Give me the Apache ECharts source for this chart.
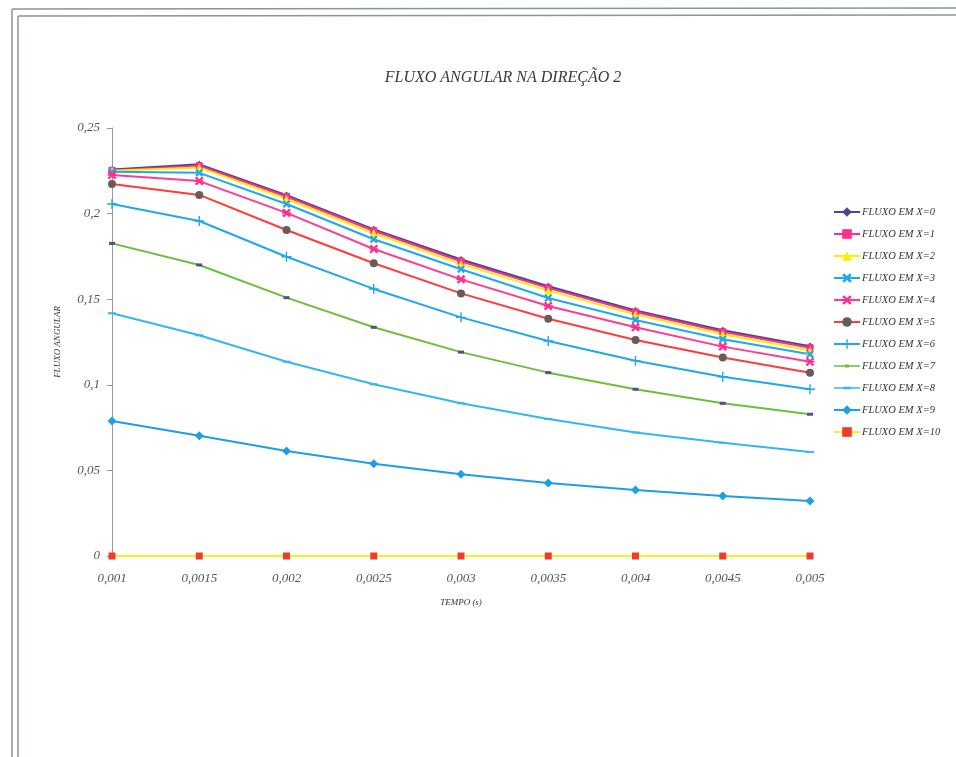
<!DOCTYPE html>
<html>
<head>
<meta charset="utf-8">
<script src="https://cdn.jsdelivr.net/npm/echarts@6/dist/echarts.min.js"></script>
<style>html,body{margin:0;padding:0;background:#fff;}#c{width:956px;height:757px;}</style>
</head>
<body>
<div id="c"></div>
<script>
var categories = ['0,001','0,0015','0,002','0,0025','0,003','0,0035','0,004','0,0045','0,005'];
var yTickLabels = {'0':'0','0.05':'0,05','0.1':'0,1','0.15':'0,15','0.2':'0,2','0.25':'0,25'};
var seriesNames = ['FLUXO EM X=0','FLUXO EM X=1','FLUXO EM X=2','FLUXO EM X=3','FLUXO EM X=4','FLUXO EM X=5','FLUXO EM X=6','FLUXO EM X=7','FLUXO EM X=8','FLUXO EM X=9','FLUXO EM X=10'];
var x0  = [0.2255, 0.2285, 0.2105, 0.1905, 0.1729, 0.1573, 0.1431, 0.1316, 0.1223];
var x1  = [0.2252, 0.2280, 0.2100, 0.1900, 0.1722, 0.1566, 0.1425, 0.1310, 0.1217];
var x2  = [0.2250, 0.2270, 0.2085, 0.1885, 0.1705, 0.1550, 0.1410, 0.1295, 0.1200];
var x3  = [0.2245, 0.2238, 0.2056, 0.1850, 0.1675, 0.1507, 0.1379, 0.1266, 0.1178];
var x4  = [0.2225, 0.2190, 0.2004, 0.1793, 0.1616, 0.1460, 0.1336, 0.1223, 0.1135];
var x5  = [0.2173, 0.2109, 0.1904, 0.1710, 0.1534, 0.1386, 0.1262, 0.1160, 0.1071];
var x6  = [0.2056, 0.1957, 0.1748, 0.1560, 0.1394, 0.1256, 0.1141, 0.1047, 0.0974];
var x7  = [0.1826, 0.1700, 0.1509, 0.1336, 0.1191, 0.1071, 0.0974, 0.0892, 0.0828];
var x8  = [0.1418, 0.1289, 0.1135, 0.1003, 0.0892, 0.0800, 0.0722, 0.0662, 0.0607];
var x9  = [0.0789, 0.0703, 0.0613, 0.0539, 0.0477, 0.0426, 0.0386, 0.0350, 0.0321];
var x10 = [0, 0, 0, 0, 0, 0, 0, 0, 0];
var seriesValues = [x0,x1,x2,x3,x4,x5,x6,x7,x8,x9,x10];

var SYM_X = 'path://M2,0 L5,3 L8,0 L10,2 L7,5 L10,8 L8,10 L5,7 L2,10 L0,8 L3,5 L0,2 Z';
var SYM_STAR = 'path://M2,0 L5,3 L8,0 L10,2 L7,4.2 L10,4.2 L10,5.8 L7,5.8 L10,8 L8,10 L5,7 L2,10 L0,8 L3,5.8 L0,5.8 L0,4.2 L3,4.2 L0,2 Z';
var SYM_PLUS = 'path://M4.3,0 H5.7 V4.3 H10 V5.7 H5.7 V10 H4.3 V5.7 H0 V4.3 H4.3 Z';
var SYM_DASH = 'path://M0,0 H10 V10 H0 Z';
var LEG_DASH_S = 'path://M0,5.2 H26 V6.8 H0 Z M11,4.5 H15 V7.5 H11 Z';
var LEG_DASH_L = 'path://M0,5.2 H26 V6.8 H0 Z M9,4.8 H17 V7.2 H9 Z';

var styles = [
  {line:'#4b4890', sym:'diamond', symColor:'#4b4890', size:8, width:3},
  {line:'#ff2d8e', sym:'rect', symColor:'#ff2d8e', size:7, width:2},
  {line:'#ffee00', sym:'triangle', symColor:'#ffee00', size:8, width:2},
  {line:'#1fa8ea', sym:SYM_X, symColor:'#1fa8ea', size:8, width:2},
  {line:'#ff3d8e', sym:SYM_STAR, symColor:'#ff2d8e', size:9, width:2},
  {line:'#ff3b3b', sym:'circle', symColor:'#6a5a5a', size:8, width:2},
  {line:'#1fa8ea', sym:SYM_PLUS, symColor:'#1fa8ea', size:10, width:2},
  {line:'#6cbf3c', sym:SYM_DASH, symColor:'#5a4a8c', size:[6,3], width:2, legIcon:LEG_DASH_S},
  {line:'#36b6ee', sym:SYM_DASH, symColor:'#36b6ee', size:[8,2], width:2, legIcon:LEG_DASH_L},
  {line:'#1f9ee6', sym:'diamond', symColor:'#1f9ee6', size:9, width:2},
  {line:'#ffee22', sym:'rect', symColor:'#f03a2a', size:7, width:2}
];

var series = seriesNames.map(function(n, i){
  var s = styles[i];
  return {
    name: n, type: 'line', data: seriesValues[i],
    symbol: s.sym, symbolSize: s.size, showSymbol: true,
    lineStyle: {color: s.line, width: s.width},
    itemStyle: {color: s.symColor, borderWidth: 0},
    emphasis: {disabled: true},
    animation: false
  };
});

var legendData = seriesNames.map(function(n, i){
  var s = styles[i];
  if (s.legIcon) return {name: n, icon: s.legIcon, itemStyle: {color: s.line}};
  return {name: n};
});

var chart = echarts.init(document.getElementById('c'), null, {renderer: 'canvas'});
chart.setOption({
  backgroundColor: '#ffffff',
  animation: false,
  title: {
    text: 'FLUXO ANGULAR NA DIREÇÃO 2',
    left: 498, top: 65, textAlign: 'center',
    textStyle: {fontFamily: 'Liberation Serif', fontStyle: 'italic', fontWeight: 'normal', fontSize: 16, color: '#3a3a3a'}
  },
  legend: {
    orient: 'vertical', left: 833, top: 206, padding: 0,
    itemWidth: 26, itemHeight: 12, itemGap: 10,
    textStyle: {fontFamily: 'Liberation Serif', fontStyle: 'italic', fontSize: 10.5, color: '#333', padding: [0,0,0,-3], lineHeight: 12},
    data: legendData
  },
  grid: {left: 112, right: 146, top: 128, bottom: 201, containLabel: false},
  xAxis: {
    type: 'category', data: categories, boundaryGap: false,
    name: 'TEMPO (s)', nameLocation: 'middle', nameGap: 42,
    nameTextStyle: {fontFamily: 'Liberation Serif', fontStyle: 'italic', fontSize: 9, color: '#333'},
    axisLine: {lineStyle: {color: '#999', width: 1}},
    axisTick: {show: false},
    axisLabel: {fontFamily: 'Liberation Serif', fontStyle: 'italic', fontSize: 13, color: '#555', margin: 16}
  },
  yAxis: {
    type: 'value', min: 0, max: 0.25, interval: 0.05,
    name: 'FLUXO ANGULAR', nameLocation: 'middle', nameGap: 50, nameRotate: 90,
    nameTextStyle: {fontFamily: 'Liberation Serif', fontStyle: 'italic', fontSize: 9, color: '#333'},
    axisLine: {show: true, lineStyle: {color: '#999', width: 1}},
    axisTick: {show: true, length: 5, lineStyle: {color: '#999'}},
    splitLine: {show: false},
    axisLabel: {fontFamily: 'Liberation Serif', fontStyle: 'italic', fontSize: 13, color: '#555', margin: 12,
      formatter: function(v){ var k = String(Math.round(v*100)/100); return yTickLabels[k] !== undefined ? yTickLabels[k] : k; }}
  },
  graphic: [
    {type: 'line', shape: {x1: 12, y1: 9, x2: 956, y2: 8}, style: {stroke: '#8c9592', lineWidth: 1.5}, silent: true},
    {type: 'line', shape: {x1: 18, y1: 16, x2: 956, y2: 15}, style: {stroke: '#8c9592', lineWidth: 1.5}, silent: true},
    {type: 'line', shape: {x1: 12, y1: 9, x2: 12, y2: 757}, style: {stroke: '#8c9592', lineWidth: 1.5}, silent: true},
    {type: 'line', shape: {x1: 18, y1: 16, x2: 18, y2: 757}, style: {stroke: '#8c9592', lineWidth: 1.5}, silent: true}
  ],
  series: series
});
</script>
</body>
</html>
